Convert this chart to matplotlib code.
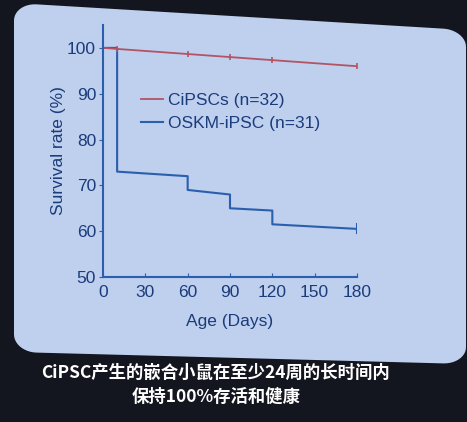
import matplotlib
matplotlib.use("Agg")
import matplotlib.pyplot as plt
from matplotlib.patches import Polygon
import numpy as np

# survival data
days_ci = [0, 180]
surv_ci = [100, 96]
censor_ci_days = [10, 60, 90, 120, 180]
censor_ci_surv = [99.8, 98.7, 98.0, 97.3, 96]

days_osk = [0, 10, 10, 60, 60, 90, 90, 120, 120, 180]
surv_osk = [100, 100, 73, 72, 69, 68, 65, 64.5, 61.5, 60.5]

xticks = [0, 30, 60, 90, 120, 150, 180]
yticks = [50, 60, 70, 80, 90, 100]

label_ci = "CiPSCs (n=32)"
label_osk = "OSKM-iPSC (n=31)"
caption = "CiPSC产生的嵌合小鼠在至少24周的长时间内\n保持100%存活和健康"

W, H = 467, 422
bg = "#14161f"
panel = "#bfcfee"
navy = "#1b3c7a"
blue = "#2a5fae"
red = "#b25464"

plt.rcParams['font.family'] = ['Liberation Sans', 'DejaVu Sans']

fig = plt.figure(figsize=(W / 100, H / 100), dpi=100, facecolor=bg)

# slide panel, slightly skewed like the photo
def rounded_box(r=0.05, n=12):
    pts = []
    corners = [(1 - r, 1 - r, 0), (r, 1 - r, 90), (r, r, 180), (1 - r, r, 270)]
    for cx, cy, a0 in corners:
        for t in np.linspace(a0, a0 + 90, n):
            pts.append((cx + r * np.cos(np.radians(t)), cy + r * np.sin(np.radians(t))))
    return np.array(pts)

tl, tr, br, bl = (14, 3), (466, 30), (466, 364), (14, 352)
px = []
for u, v in rounded_box():
    top = np.array(tl) * (1 - u) + np.array(tr) * u
    bot = np.array(bl) * (1 - u) + np.array(br) * u
    p = bot * (1 - v) + top * v
    px.append((p[0] / W, 1 - p[1] / H))
fig.patches.append(Polygon(px, closed=True, transform=fig.transFigure,
                           facecolor=panel, edgecolor="none", zorder=-1))

ax = fig.add_axes([103 / W, 1 - 277 / H, 254 / W, 252 / H])
ax.set_facecolor("none")

ax.plot(days_osk, surv_osk, color=blue, lw=1.5, label=label_osk)
ax.plot([180, 180], [59.5, 61.5], color=blue, lw=1.5)
ax.plot(days_ci, surv_ci, color=red, lw=1.3, label=label_ci)
ax.plot(censor_ci_days, censor_ci_surv, ls="none", marker="|", ms=5,
        color=red, mew=1.2)

ax.set_xlim(0, 180)
ax.set_ylim(50, 105)
ax.set_xticks(xticks)
ax.set_yticks(yticks)
for s in ["top", "right"]:
    ax.spines[s].set_visible(False)
for s in ["left", "bottom"]:
    ax.spines[s].set_color(blue)
    ax.spines[s].set_linewidth(1.5)
ax.tick_params(axis="x", direction="in", length=3, color=blue, labelsize=12.5,
               labelcolor=navy, pad=6)
ax.tick_params(axis="y", direction="out", length=3, color=blue, labelsize=12.5,
               labelcolor=navy, pad=2)

ax.set_xlabel("Age (Days)", fontsize=12.5, color=navy, labelpad=10)
ax.set_ylabel("Survival rate (%)", fontsize=12.5, color=navy, labelpad=1)

h, l = ax.get_legend_handles_labels()
ax.legend([h[1], h[0]], [l[1], l[0]], loc="upper left",
          bbox_to_anchor=(125 / W, 1 - 77 / H), bbox_transform=fig.transFigure,
          frameon=False, fontsize=12.5, handlelength=1.3, handletextpad=0.3,
          labelspacing=0.45, labelcolor=navy)

fig.text(216 / W, 1 - 385 / H, caption, ha="center", va="center",
         color="white", fontsize=12.5, linespacing=1.4, weight="bold",
         family=['Noto Sans CJK SC', 'DejaVu Sans'])

fig.savefig("out.png", dpi=100, facecolor=bg)
